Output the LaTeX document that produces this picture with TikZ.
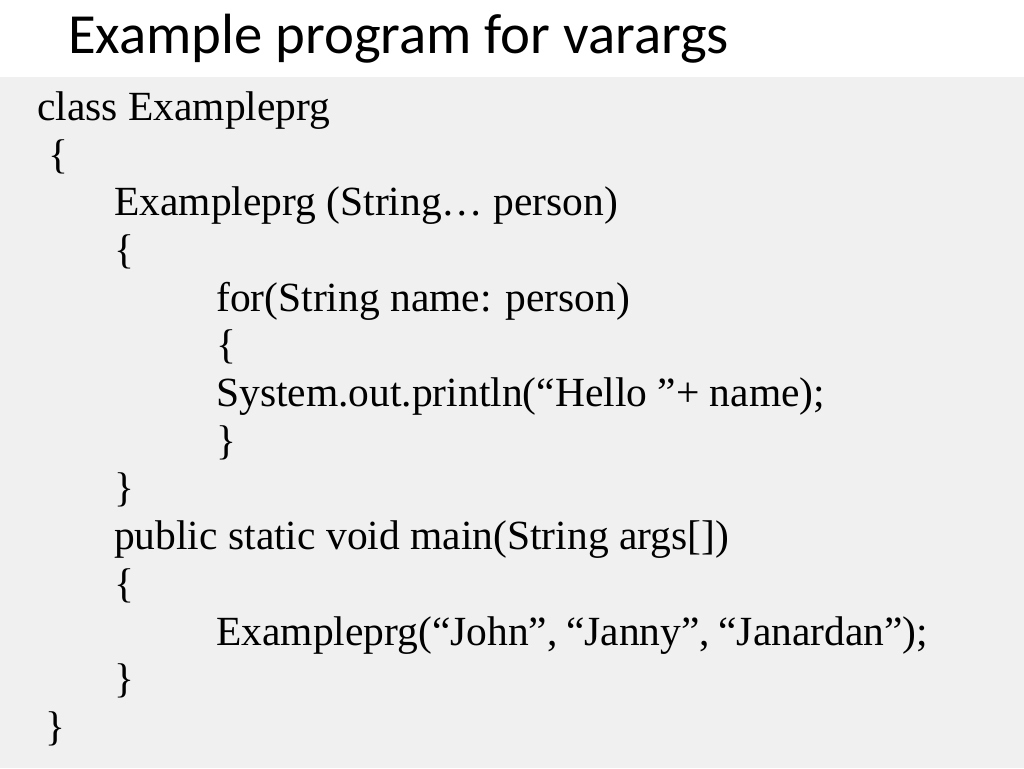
\documentclass[tikz,border=0pt]{standalone}
\usepackage{fontspec}
\setmainfont{Liberation Serif}
\newfontfamily\titlefont{Carlito}
\begin{document}
\begin{tikzpicture}[x=1pt,y=-1pt,
  codeline/.style={anchor=base west,inner sep=0pt,font=\fontsize{41.5}{41.5}\selectfont},
  titletext/.style={anchor=base west,inner sep=0pt,font=\titlefont\fontsize{56.7}{56.7}\selectfont}]
\useasboundingbox (0,0) rectangle (1024,768);
\fill[white] (0,0) rectangle (1024,77);
\fill[black!6] (0,77) rectangle (1024,768);
\node[titletext] (title) at (68,53) {Example program for varargs};
\node[codeline] (l0) at (37,120) {class Exampleprg};
\node[codeline] (l1) at (48,168) {\{};
\node[codeline] (l2) at (114,215) {Exampleprg (String… person)};
\node[codeline] (l3) at (114,263) {\{};
\node[codeline] (l4) at (216,311) {for(String name: person)};
\node[codeline] (l5) at (216,358) {\{};
\node[codeline] (l6) at (216,406) {System.out.println(“Hello ”+ name);};
\node[codeline] (l7) at (216,454) {\}};
\node[codeline] (l8) at (114,501) {\}};
\node[codeline] (l9) at (114,549) {public static void main(String args[])};
\node[codeline] (l10) at (114,597) {\{};
\node[codeline] (l11) at (216,645) {Exampleprg(“John”,\kern-2pt{} “Janny”,\kern-2pt{} “Janardan”);};
\node[codeline] (l12) at (114,692) {\}};
\node[codeline] (l13) at (45,740) {\}};
\end{tikzpicture}
\end{document}
